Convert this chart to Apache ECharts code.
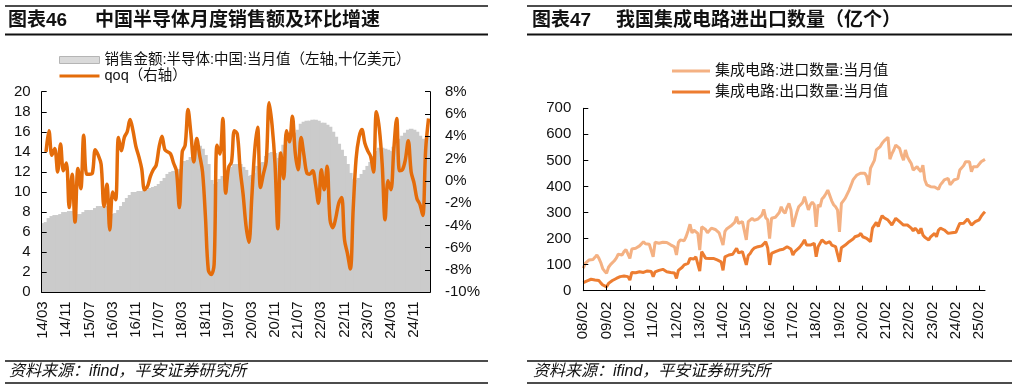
<!DOCTYPE html>
<html><head><meta charset="utf-8">
<script src="https://cdn.jsdelivr.net/npm/echarts@6/dist/echarts.min.js"></script>
<style>html,body{margin:0;padding:0;background:#fff}#c{width:1017px;height:389px}</style>
</head><body><div id="c"></div>
<script>
// ---------- Left panel: China semiconductor monthly sales & qoq ----------
const semiStart = [2014, 3];          // first month 14/03
const semiSales = [                   // 十亿美元
  6.9, 7.0, 7.4, 7.6, 7.7, 7.7, 7.8, 8.0, 8.0, 8.1, 8.1, 8.0,
  7.8, 7.8, 8.0, 8.2, 8.2, 8.2, 8.4, 8.6, 8.6, 8.6, 8.6, 7.9,
  7.8, 7.9, 8.2, 8.6, 9.0, 9.4, 9.7, 10.0, 10.0, 10.1, 10.1, 10.2,
  10.2, 10.4, 10.5, 10.6, 10.8, 11.1, 11.4, 11.8, 12.0, 12.1, 11.9, 12.3,
  12.7, 13.1, 13.2, 13.5, 14.0, 14.5, 14.6, 14.3, 13.7, 12.8, 11.2, 10.8,
  11.0, 11.3, 11.6, 12.0, 12.2, 12.5, 12.8, 12.8, 12.8, 12.5, 12.2, 11.6,
  11.7, 11.9, 12.6, 12.9, 13.0, 13.6, 13.9, 14.0, 13.9, 13.4, 14.0, 14.7,
  15.0, 15.4, 15.6, 15.9, 16.2, 16.8, 17.0, 17.1, 17.1, 17.2, 17.2, 17.1,
  16.9, 16.9, 16.7, 16.5, 16.0, 15.5, 14.8, 14.2, 13.6, 12.8, 11.9, 11.3,
  11.2, 11.4, 11.8, 12.2, 12.6, 13.0, 13.6, 14.1, 14.4, 14.4, 14.3, 14.2,
  14.1, 14.5, 15.0, 15.3, 15.6, 15.9, 16.2, 16.3, 16.2, 16.0, 15.6, 15.3,
  15.2, 15.5
];
const semiQoq = [                     // %
  null, 2.6, 4.5, 2.3, 2.9, 0.8, 3.3, 0.9, 1.6, -2.4, 0.6, -3.7,
  1.1, -0.7, 4.1, 0.6, 0.6, 0.7, 2.8, 2.3, 1.5, -2.3, -0.3, -4.4,
  -1.0, -1.7, 3.9, 2.7, 3.9, 4.4, 5.5, 4.5, 3.1, 2.2, 1.1, -0.8,
  -0.5, 0.4, 1.0, 1.4, 3.0, 4.0, 2.8, 2.6, 2.4, 1.6, 0.9, -2.4,
  2.6, 3.2, 6.4, 4.2, 1.7, 3.8, 2.3, 0.8, -3.2, -8.0, -8.4, -7.5,
  3.2, 2.4, 5.6, -1.1, 1.2, 1.7, 4.5, 4.2, 1.0, -1.2, -4.0, -5.5,
  -1.5, 2.7, 4.8, -0.6, 0.6, 1.8, 7.0, 5.0, 1.6, -4.3, 2.5, 0.2,
  4.5, 3.5, 5.8, 2.5, 1.0, 3.9, 2.3, 0.7, 0.6, 0.9, -0.3, -2.0,
  1.0, -0.8, 1.3, -3.5, -4.2, -3.3, -2.0, -1.5, -5.3, -6.5, -7.9, -2.5,
  2.0, 3.9, 4.6, 3.4, 2.7, 2.2, 0.8, 6.2, 4.7, 1.5, -3.5, 0.0,
  -0.8, 2.8, 5.6, 0.9, 1.0, 1.9, 3.6, 0.8, -0.2, -1.6, -2.1, -3.1,
  2.8, 5.6
];

// ---------- Right panel: IC import / export quantity ----------
const icStart = [2008, 2];            // first month 08/02
const icImport = [                    // 亿个
  86, 105, 112, 118, 117, 120, 128, 137, 125, 108, 85, 75,
  67, 90, 100, 105, 115, 125, 140, 145, 137, 150, 158, 155,
  124, 160, 162, 163, 168, 172, 178, 188, 180, 175, 178, 182,
  130, 186, 184, 182, 188, 186, 182, 185, 180, 176, 172, 168,
  137, 185, 195, 190, 192, 208, 230, 255, 222, 232, 225, 220,
  156, 245, 240, 235, 222, 228, 240, 245, 235, 228, 222, 215,
  175, 228, 238, 240, 248, 255, 262, 284, 258, 262, 265, 262,
  195, 265, 272, 278, 270, 265, 275, 282, 290, 312, 280, 272,
  200, 278, 280, 282, 284, 300, 322, 305, 297, 320, 335, 310,
  245, 272, 300, 322, 330, 338, 361, 335, 310, 330, 340, 330,
  245, 330, 322, 352, 360, 372, 386, 393, 345, 330, 322, 310,
  226, 335, 345, 355, 362, 386, 405, 425, 435, 444, 448, 451,
  453, 451, 440, 406, 470, 463, 500, 540, 534, 553, 566, 575,
  578, 589, 505, 525, 540, 559, 552, 546, 520, 501, 540, 514,
  500, 488, 463, 470, 476, 465, 457, 482, 425, 406, 402, 399,
  402, 398, 392, 389, 406, 415, 425, 428, 431, 406, 415, 425,
  425, 430, 463, 470, 480, 495, 496, 495, 457, 476, 476, 476,
  480, 495, 498, 504
];
const icExport = [
  31, 35, 38, 41, 44, 43, 41, 40, 39, 30, 22, 18,
  15, 28, 33, 39, 44, 47, 50, 54, 55, 56, 58, 54,
  41, 70, 73, 69, 72, 73, 69, 70, 73, 76, 80, 74,
  54, 72, 73, 78, 80, 82, 82, 73, 72, 70, 69, 68,
  47, 78, 82, 90, 99, 102, 105, 124, 118, 122, 130, 137,
  75, 150, 143, 125, 118, 124, 122, 124, 120, 118, 115, 111,
  78, 130, 132, 137, 138, 140, 143, 163, 145, 143, 150, 156,
  99, 135, 143, 155, 163, 165, 169, 163, 172, 180, 188, 165,
  99, 143, 145, 150, 153, 156, 158, 159, 165, 169, 163, 160,
  137, 150, 155, 163, 172, 182, 195, 175, 169, 175, 178, 182,
  130, 169, 182, 195, 188, 182, 185, 188, 175, 172, 169, 165,
  111, 165, 169, 175, 180, 188, 194, 198, 207, 201, 212, 220,
  207, 204, 201, 195, 188, 240, 233, 262, 246, 271, 288, 280,
  278, 271, 262, 252, 265, 278, 284, 265, 258, 252, 259, 252,
  252, 240, 230, 240, 232, 220, 240, 214, 205, 198, 195, 207,
  212, 220, 207, 232, 240, 236, 233, 235, 220, 220, 222, 223,
  224, 226, 258, 255, 259, 265, 275, 281, 252, 246, 265, 260,
  272, 285, 295, 303
];

const seriesNames = {
  sales: '销售金额:半导体:中国:当月值（左轴,十亿美元）',
  qoq: 'qoq（右轴）',
  imp: '集成电路:进口数量:当月值',
  exp: '集成电路:出口数量:当月值'
};
const titles = {
  leftNo: '图表46', left: '中国半导体月度销售额及环比增速',
  rightNo: '图表47', right: '我国集成电路进出口数量（亿个）',
  source: '资料来源：ifind，平安证券研究所'
};

function monthLabels(start, n) {
  const out = [];
  let y = start[0], m = start[1];
  for (let i = 0; i < n; i++) {
    out.push(String(y % 100).padStart(2, '0') + '/' + String(m).padStart(2, '0'));
    m++; if (m > 12) { m = 1; y++; }
  }
  return out;
}
const semiMonths = monthLabels(semiStart, semiSales.length);
const icMonths = monthLabels(icStart, icImport.length);

const FONT = '"Liberation Sans", Arial, "Noto Sans CJK SC", sans-serif';
const TXT = '#111';
const LINE_ICON = 'path://M0,0H40V3H0Z';

function rule(x1, x2, y, w) {
  return { type: 'line', shape: { x1: x1, y1: y, x2: x2, y2: y }, style: { stroke: '#111', lineWidth: w }, silent: true };
}
function txt(x, y, s, opt) {
  return { type: 'text', x: x, y: y, silent: true,
    style: Object.assign({ text: s, fill: TXT, font: '15px ' + FONT, textVerticalAlign: 'middle', textAlign: 'left' }, opt || {}) };
}

const chart = echarts.init(document.getElementById('c'));
const axisLineStyle = { color: '#000', width: 1 };

chart.setOption({
  animation: false,
  backgroundColor: '#fff',
  textStyle: { fontFamily: FONT },
  grid: [
    { left: 41.7, top: 91.7, width: 388.3, height: 200.6 },
    { left: 583.3, top: 108.3, width: 401.7, height: 182.4 }
  ],
  legend: [
    { orient: 'vertical', left: 59, top: 52, padding: 0, itemWidth: 40, itemHeight: 7, itemGap: 0,
      textStyle: { fontSize: 14.5, color: TXT, lineHeight: 16, fontFamily: FONT },
      data: [
        { name: seriesNames.sales, icon: 'rect', itemStyle: { color: '#dadada', borderColor: '#b5b5b5', borderWidth: 1 } },
        { name: seriesNames.qoq, icon: LINE_ICON, itemStyle: { color: '#E46C0A' } }
      ] },
    { orient: 'vertical', left: 672, top: 60.5, padding: 0, itemWidth: 38, itemHeight: 7, itemGap: 0,
      textStyle: { fontSize: 15, color: TXT, lineHeight: 21, fontFamily: FONT },
      data: [
        { name: seriesNames.imp, icon: LINE_ICON, itemStyle: { color: '#F4B183' } },
        { name: seriesNames.exp, icon: LINE_ICON, itemStyle: { color: '#ED7D31' } }
      ] }
  ],
  xAxis: [
    { gridIndex: 0, type: 'category', data: semiMonths, boundaryGap: true, z: 5,
      axisLine: { onZero: false, lineStyle: axisLineStyle },
      axisTick: { inside: true, length: 5, interval: 7, lineStyle: axisLineStyle },
      axisLabel: { interval: 7, rotate: 90, fontSize: 15, color: TXT, margin: 9, fontFamily: FONT },
      splitLine: { show: false } },
    { gridIndex: 1, type: 'category', data: icMonths, boundaryGap: false, z: 5,
      axisLine: { onZero: false, lineStyle: axisLineStyle },
      axisTick: { inside: true, length: 5, interval: 11, lineStyle: axisLineStyle },
      axisLabel: { interval: 11, rotate: 90, fontSize: 15, color: TXT, margin: 11, fontFamily: FONT },
      splitLine: { show: false } }
  ],
  yAxis: [
    { gridIndex: 0, type: 'value', min: 0, max: 20, interval: 2, z: 5,
      axisLine: { show: true, lineStyle: axisLineStyle },
      axisTick: { show: true, inside: true, length: 5, lineStyle: axisLineStyle },
      axisLabel: { fontSize: 15, color: TXT, margin: 11, fontFamily: FONT },
      splitLine: { show: false } },
    { gridIndex: 0, type: 'value', min: -10, max: 8, interval: 2, position: 'right', z: 5,
      axisLine: { show: true, lineStyle: axisLineStyle },
      axisTick: { show: true, inside: true, length: 5, lineStyle: axisLineStyle },
      axisLabel: { fontSize: 15, color: TXT, margin: 15, fontFamily: FONT, formatter: v => v + '%' },
      splitLine: { show: false } },
    { gridIndex: 1, type: 'value', min: 0, max: 700, interval: 100, z: 5,
      axisLine: { show: true, lineStyle: axisLineStyle },
      axisTick: { show: true, inside: true, length: 5, lineStyle: axisLineStyle },
      axisLabel: { fontSize: 15, color: TXT, margin: 12, fontFamily: FONT },
      splitLine: { show: false } }
  ],
  series: [
    { name: seriesNames.sales, type: 'bar', xAxisIndex: 0, yAxisIndex: 0, data: semiSales,
      barWidth: '160%', large: false,
      itemStyle: { color: '#cbcbcb', borderWidth: 0 }, z: 2 },
    { name: seriesNames.qoq, type: 'line', xAxisIndex: 0, yAxisIndex: 1, data: semiQoq,
      smooth: 0.35, symbol: 'none', connectNulls: false,
      lineStyle: { color: '#E46C0A', width: 3.5 }, itemStyle: { color: '#E46C0A' }, z: 3 },
    { name: seriesNames.imp, type: 'line', xAxisIndex: 1, yAxisIndex: 2, data: icImport,
      symbol: 'none', lineStyle: { color: '#F4B183', width: 3 }, itemStyle: { color: '#F4B183' }, z: 3 },
    { name: seriesNames.exp, type: 'line', xAxisIndex: 1, yAxisIndex: 2, data: icExport,
      symbol: 'none', lineStyle: { color: '#ED7D31', width: 3 }, itemStyle: { color: '#ED7D31' }, z: 4 }
  ],
  graphic: [
    rule(5, 488, 6, 1.5), rule(5, 488, 34.5, 2), rule(5, 488, 361, 1.5), rule(5, 488, 383, 1.5),
    rule(527, 1012, 6, 1.5), rule(527, 1012, 34.5, 2), rule(527, 1012, 361, 1.5), rule(527, 1012, 383, 1.5),
    txt(8, 21, titles.leftNo, { font: 'bold 19px ' + FONT }),
    txt(95, 21, titles.left, { font: 'bold 19px ' + FONT }),
    txt(532, 21, titles.rightNo, { font: 'bold 19px ' + FONT }),
    txt(616, 21, titles.right, { font: 'bold 19px ' + FONT }),
    txt(9, 372, titles.source, { font: 'italic 16px ' + FONT }),
    txt(533, 372, titles.source, { font: 'italic 16px ' + FONT })
  ]
});
</script>
</body></html>
